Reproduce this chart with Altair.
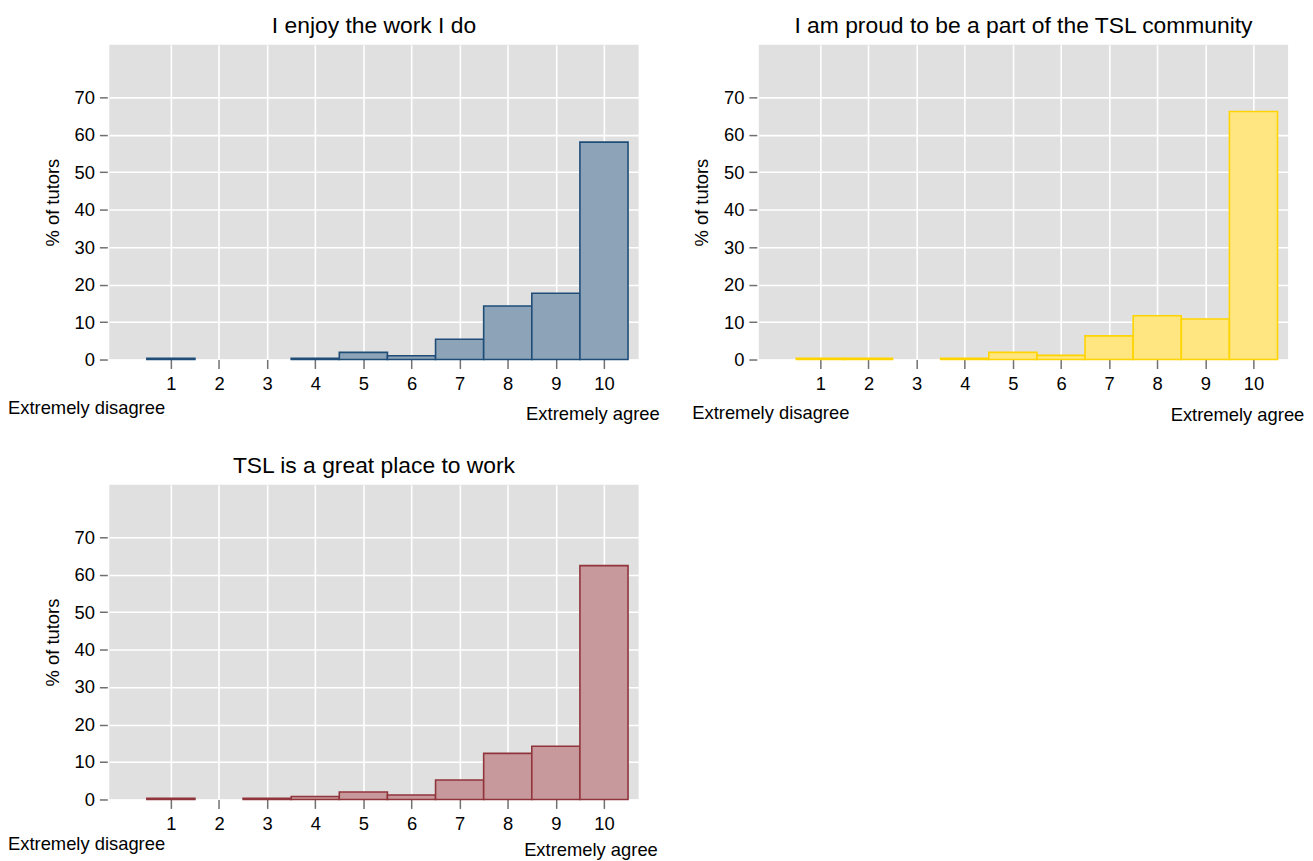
import altair as alt
import pandas as pd

scores = list(range(1, 11))
titles = [
    "I enjoy the work I do",
    "I am proud to be a part of the TSL community",
    "TSL is a great place to work",
]
pct_enjoy = [0.3, 0, 0, 0.3, 1.9, 1.0, 5.4, 14.3, 17.7, 58.0]
pct_proud = [0.3, 0.3, 0, 0.3, 1.9, 1.1, 6.3, 11.7, 10.8, 66.2]
pct_great = [0.3, 0, 0.3, 0.8, 2.0, 1.2, 5.2, 12.3, 14.2, 62.4]
series = [pct_enjoy, pct_proud, pct_great]
fills = ["#8CA3B8", "#FFE680", "#C8999C"]
strokes = ["#1F4D78", "#FFD400", "#90353B"]
y_ticks = [0, 10, 20, 30, 40, 50, 60, 70]
low_label = "Extremely disagree"
high_label = "Extremely agree"
y_title = "% of tutors"

W, H = 533, 317
FONT = "Liberation Sans"
# per-panel annotation offsets (relative to plot area)
low_pos = [(-102, H + 49), (-67, H + 54), (-102, H + 45)]
high_pos = [(487, H + 55), (482, H + 56), (485, H + 51)]


def panel(i):
    df = pd.DataFrame({"score": scores, "pct": series[i]})
    bars = (
        alt.Chart(df)
        .transform_filter("datum.pct > 0")
        .transform_calculate(lo="datum.score - 0.5", hi="datum.score + 0.5")
        .mark_bar(fill=fills[i], stroke=strokes[i], strokeWidth=1.6)
        .encode(
            x=alt.X(
                "lo:Q",
                scale=alt.Scale(domain=[-0.28, 10.72], nice=False, zero=False),
                axis=alt.Axis(
                    values=scores,
                    title=None,
                    grid=True,
                    domain=False,
                    tickSize=9,
                    labelPadding=6,
                    format="d",
                ),
            ),
            x2="hi:Q",
            y=alt.Y(
                "pct:Q",
                scale=alt.Scale(domain=[0, 84], nice=False),
                axis=alt.Axis(
                    values=y_ticks,
                    title=y_title,
                    grid=True,
                    domain=False,
                    tickSize=8,
                    labelPadding=5,
                    titlePadding=12,
                    offset=2,
                ),
            ),
            y2=alt.datum(0),
        )
    )
    ann = pd.DataFrame({"t": [low_label, high_label]})
    low = (
        alt.Chart(ann)
        .transform_filter(alt.datum.t == low_label)
        .mark_text(align="left", baseline="middle", fontSize=18.5, font=FONT, color="black")
        .encode(x=alt.value(low_pos[i][0]), y=alt.value(low_pos[i][1]), text="t:N")
    )
    high = (
        alt.Chart(ann)
        .transform_filter(alt.datum.t == high_label)
        .mark_text(align="center", baseline="middle", fontSize=18.5, font=FONT, color="black")
        .encode(x=alt.value(high_pos[i][0]), y=alt.value(high_pos[i][1]), text="t:N")
    )
    return alt.layer(bars, low, high).properties(
        width=W,
        height=H,
        title=alt.TitleParams(titles[i], fontSize=23, font=FONT, fontWeight="normal", offset=7, anchor="middle"),
    )


top = alt.hconcat(panel(0), panel(1), spacing=32)
chart = (
    alt.vconcat(top, panel(2), spacing=30)
    .properties(padding={"left": 0, "top": 4, "right": 0, "bottom": 0})
    .configure_view(fill="#E0E0E0", stroke=None)
    .configure_axis(
        gridColor="white",
        gridWidth=1.6,
        tickColor="#707070",
        tickWidth=1.5,
        labelFont=FONT,
        labelFontSize=18.5,
        labelColor="black",
        titleFont=FONT,
        titleFontSize=18.5,
        titleFontWeight="normal",
        titleColor="black",
    )
)

chart.save("out.html", embed_options={"renderer": "svg", "actions": False})
